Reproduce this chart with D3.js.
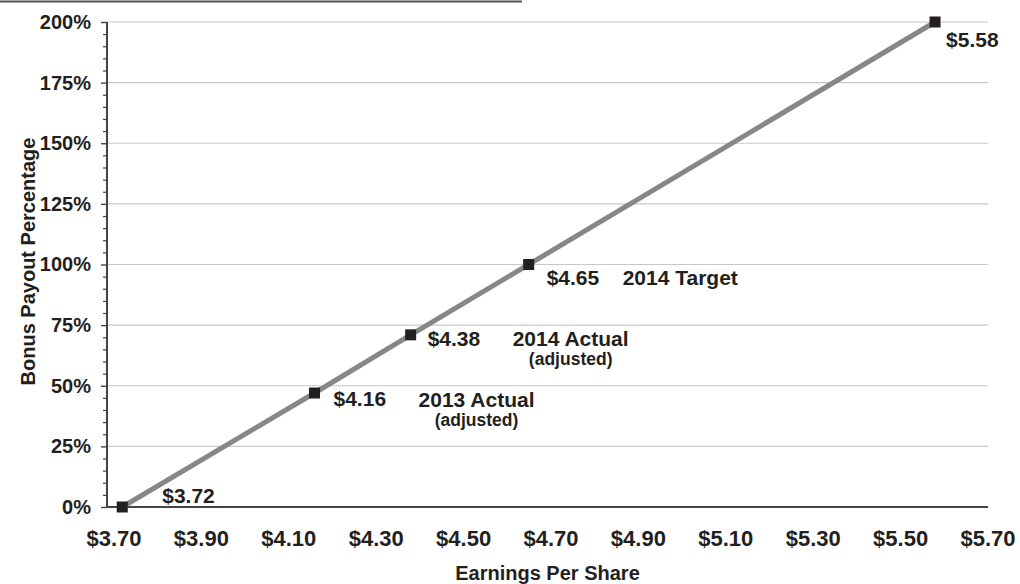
<!DOCTYPE html>
<html>
<head>
<meta charset="utf-8">
<script src="https://cdn.jsdelivr.net/npm/d3@7"></script>
<style>
  html, body { margin: 0; padding: 0; background: #fff; }
  svg { display: block; }
  text { font-family: "Liberation Sans", Arial, Helvetica, sans-serif; font-weight: bold; fill: #231f20; }
</style>
</head>
<body>
<svg id="chart" width="1020" height="584"></svg>
<script>
// ---- data ----
const eps = [3.72, 4.16, 4.38, 4.65, 5.58];
const payout = [0, 47, 71, 100, 200];
const pointLabels = ["$3.72", "$4.16", "$4.38", "$4.65", "$5.58"];
const noteTitles = [null, "2013 Actual", "2014 Actual", "2014 Target", null];
const noteSubs = [null, "(adjusted)", "(adjusted)", null, null];
const xTicks = [3.70, 3.90, 4.10, 4.30, 4.50, 4.70, 4.90, 5.10, 5.30, 5.50, 5.70];
const yTicks = [0, 25, 50, 75, 100, 125, 150, 175, 200];
const xTitle = "Earnings Per Share";
const yTitle = "Bonus Payout Percentage";

// ---- layout ----
const plotLeft = 107, plotRight = 988, plotTop = 22, plotBottom = 507;
const svg = d3.select("#chart");

const x = d3.scaleLinear().domain([3.70, 5.70]).range([113.5, 987.5]);
const y = d3.scaleLinear().domain([0, 200]).range([plotBottom, plotTop]);

// top rule (cropped from page)
svg.append("line").attr("x1", 0).attr("x2", 522).attr("y1", 1.5).attr("y2", 1.5)
  .attr("stroke", "#555").attr("stroke-width", 2);

// gridlines
svg.append("g").selectAll("line").data(yTicks.filter(d => d > 0)).join("line")
  .attr("x1", plotLeft).attr("x2", plotRight)
  .attr("y1", d => y(d)).attr("y2", d => y(d))
  .attr("stroke", "#c8c8c8").attr("stroke-width", 1.2);

// y axis minor ticks
const minor = d3.range(0, 201, 5).filter(d => d % 25 !== 0);
svg.append("g").attr("transform", `translate(${plotLeft},0)`)
  .call(d3.axisLeft(y).tickValues(minor).tickSize(4).tickFormat(""))
  .call(g => g.select(".domain").remove())
  .call(g => g.selectAll("line").attr("stroke", "#444").attr("stroke-width", 1.2));

// y axis major
const yAxis = svg.append("g").attr("transform", `translate(${plotLeft},0)`)
  .call(d3.axisLeft(y).tickValues(yTicks).tickSize(6).tickPadding(10).tickFormat(d => d + "%"));
yAxis.select(".domain").attr("stroke", "#444").attr("stroke-width", 2).attr("d", `M0,${plotTop}V${plotBottom}`);
yAxis.selectAll("line").attr("stroke", "#444").attr("stroke-width", 1.4);
yAxis.selectAll("text").style("font-size", "20px").attr("fill", "#231f20")
  .style("font-family", "'Liberation Sans', Arial, sans-serif").style("font-weight", "bold");

// x axis
const xAxis = svg.append("g").attr("transform", `translate(0,${plotBottom})`)
  .call(d3.axisBottom(x).tickValues(xTicks).tickSize(0).tickPadding(23).tickFormat(d => "$" + d.toFixed(2)));
xAxis.select(".domain").attr("stroke", "#444").attr("stroke-width", 2).attr("d", `M${plotLeft},0H${plotRight}`);
xAxis.selectAll("text").style("font-size", "22px").attr("fill", "#231f20")
  .style("font-family", "'Liberation Sans', Arial, sans-serif").style("font-weight", "bold");

// axis titles
svg.append("text").attr("x", (plotLeft + plotRight) / 2).attr("y", 580)
  .attr("text-anchor", "middle").style("font-size", "20px").text(xTitle);
svg.append("text").attr("transform", `translate(35,${(plotTop + plotBottom) / 2 - 3}) rotate(-90)`)
  .attr("text-anchor", "middle").style("font-size", "20px").text(yTitle);

// line
const pts = eps.map((e, i) => [e, payout[i]]);
svg.append("path").datum(pts)
  .attr("d", d3.line().x(d => x(d[0])).y(d => y(d[1])))
  .attr("fill", "none").attr("stroke", "#878787").attr("stroke-width", 5);

// markers
const ms = 11;
svg.append("g").selectAll("rect").data(pts).join("rect")
  .attr("x", d => x(d[0]) - ms / 2).attr("y", d => y(d[1]) - ms / 2)
  .attr("width", ms).attr("height", ms).attr("fill", "#231f20");

// point labels (offsets: layout only)
const labelOffsets = [[40, -4], [19, 13], [17, 11], [18, 20], [11, 25]];
svg.append("g").selectAll("text").data(pts).join("text")
  .attr("x", (d, i) => x(d[0]) + labelOffsets[i][0])
  .attr("y", (d, i) => y(d[1]) + labelOffsets[i][1])
  .style("font-size", "21px").text((d, i) => pointLabels[i]);

// notes
const noteOffsets = [null, [162, 14, "middle"], [160, 11, "middle"], [94, 20, "start"], null];
pts.forEach((d, i) => {
  if (!noteTitles[i]) return;
  const o = noteOffsets[i];
  svg.append("text").attr("x", x(d[0]) + o[0]).attr("y", y(d[1]) + o[1])
    .attr("text-anchor", o[2]).style("font-size", "21px").text(noteTitles[i]);
  if (noteSubs[i]) {
    svg.append("text").attr("x", x(d[0]) + o[0]).attr("y", y(d[1]) + o[1] + 19)
      .attr("text-anchor", o[2]).style("font-size", "17.5px").text(noteSubs[i]);
  }
});
</script>
</body>
</html>
